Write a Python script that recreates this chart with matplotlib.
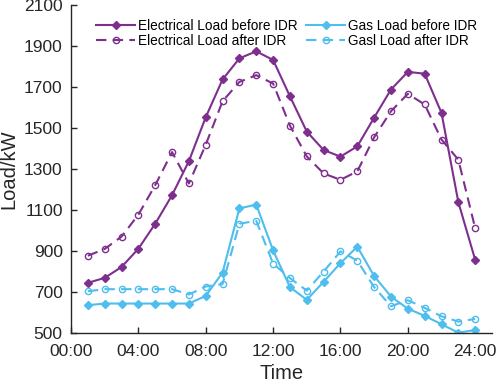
import numpy as np
import matplotlib.pyplot as plt

plt.rcParams['font.family'] = ['Liberation Sans', 'DejaVu Sans']

hours = list(range(1, 25))
elec_before = [746, 770, 823, 912, 1034, 1173, 1339, 1553, 1737, 1840, 1874, 1832,
               1655, 1483, 1393, 1361, 1411, 1551, 1688, 1774, 1765, 1574, 1139, 858]
elec_after = [878, 911, 971, 1078, 1222, 1383, 1230, 1419, 1631, 1725, 1758, 1717,
              1512, 1362, 1279, 1248, 1289, 1455, 1582, 1667, 1615, 1444, 1346, 1012]
gas_before = [637, 645, 645, 645, 645, 645, 645, 682, 796, 1109, 1127, 904,
              725, 663, 751, 842, 922, 779, 679, 620, 585, 544, 503, 516]
gas_after = [705, 715, 715, 715, 715, 715, 689, 728, 740, 1034, 1048, 840,
             769, 708, 801, 899, 854, 725, 632, 661, 624, 583, 557, 570]

xticks = [0, 4, 8, 12, 16, 20, 24]
xlabels = ["00:00", "04:00", "08:00", "12:00", "16:00", "20:00", "24:00"]
yticks = list(range(500, 2101, 200))

purple = "#7E2F8E"
cyan = "#4DBEEE"
dash = (0, (5, 3))

fig = plt.figure(figsize=(4.98, 3.82), dpi=100)
ax = fig.add_axes([0.1426, 0.1275, 0.8454, 0.8595])

ax.plot(hours, elec_before, color=purple, lw=1.5, marker='D', ms=4.5,
        label="Electrical Load before IDR")
ax.plot(hours, elec_after, color=purple, lw=1.5, ls=dash, marker='o', ms=4.5,
        mfc='none', label="Electrical Load after IDR")
ax.plot(hours, gas_before, color=cyan, lw=1.5, marker='D', ms=4.5,
        label="Gas Load before IDR")
ax.plot(hours, gas_after, color=cyan, lw=1.5, ls=dash, marker='o', ms=4.5,
        mfc='none', label="Gasl Load after IDR")

ax.set_xlim(0, 25)
ax.set_ylim(500, 2100)
ax.set_xticks(xticks)
ax.set_xticklabels(xlabels)
ax.set_yticks(yticks)
ax.tick_params(direction='in', labelsize=12.5, length=4, width=1, colors='#262626')
ax.tick_params(axis='x', pad=8)
ax.tick_params(axis='y', pad=6)
ax.spines['top'].set_visible(False)
ax.spines['right'].set_visible(False)
for s in ['left', 'bottom']:
    ax.spines[s].set_color('#262626')
    ax.spines[s].set_linewidth(1)

ax.set_xlabel("Time", fontsize=14.5, color='#262626', labelpad=3)
ax.set_ylabel("Load/kW", fontsize=14.5, color='#262626', labelpad=2)
ax.yaxis.set_label_coords(-0.125, 0.5)

ax.legend(ncol=2, loc='upper left', bbox_to_anchor=(0.03, 0.995), frameon=False,
          fontsize=9.8, handlelength=2.9, numpoints=1, columnspacing=0.6,
          handletextpad=0.2, labelspacing=0.1)

plt.savefig("out.png", dpi=100)
